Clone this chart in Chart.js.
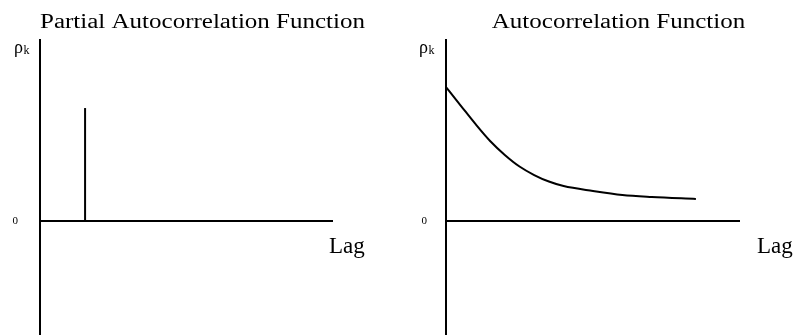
<!DOCTYPE html>
<html>
<head>
<meta charset="utf-8">
<script src="https://cdn.jsdelivr.net/npm/chart.js@4"></script>
<style>
  html, body { margin: 0; padding: 0; background: #fff; overflow: hidden; }
  #wrap { position: relative; width: 799px; height: 335px; }
  canvas { position: absolute; top: 0; }
  #pacfChart { left: 0; }
  #acfChart { left: 400px; }
</style>
</head>
<body>
<div id="wrap">
  <canvas id="pacfChart" width="400" height="335"></canvas>
  <canvas id="acfChart" width="399" height="335"></canvas>
</div>
<script>
// titles and labels
const pacfTitle = "Partial Autocorrelation Function";
const acfTitle = "Autocorrelation Function";
const xLabel = "Lag";
const yTickLabels = ["0"];

// PACF: a single spike at lag 1
const pacfLags = [1];
const pacfValues = [0.624];

// ACF: smooth decay
const acfLags = [0, 1, 2, 3, 4, 5, 6, 7, 8, 10, 12, 14, 17];
const acfValues = [0.74, 0.638, 0.536, 0.442, 0.365, 0.301, 0.254, 0.218, 0.193, 0.166, 0.144, 0.133, 0.122];

// texts drawn around the axes (title, rho_k, Lag)
const annotate = {
    id: "annotate",
    afterDraw(chart, args, opts) {
        const ctx = chart.ctx;
        const area = chart.chartArea;
        const zeroY = chart.scales.y.getPixelForValue(0);
        ctx.save();
        ctx.fillStyle = "#000";
        ctx.textBaseline = "alphabetic";

        // title (the original is a little stretched sideways)
        ctx.save();
        ctx.font = '20px "Liberation Serif", "Times New Roman", serif';
        ctx.textAlign = "center";
        ctx.translate(opts.titleX, 28);
        ctx.scale(1.25, 1);
        ctx.fillText(opts.title, 0, 0);
        ctx.restore();

        // rho with subscript k
        ctx.textAlign = "left";
        ctx.font = '18px "Liberation Serif", "Times New Roman", serif';
        const rx = area.left - opts.rhoDx;
        ctx.fillText("\u03C1", rx, 53);
        const rw = ctx.measureText("\u03C1").width;
        ctx.font = '12px "Liberation Serif", "Times New Roman", serif';
        ctx.fillText("k", rx + rw + 0.5, 53.5);

        // Lag label
        ctx.font = '23px "Liberation Serif", "Times New Roman", serif';
        ctx.fillText(xLabel, area.right + opts.lagDx, zeroY + 32);
        ctx.restore();
    }
};

function makeOptions(xMax, yWidth, padRight, tickPad, extra) {
    return {
        responsive: false,
        animation: false,
        devicePixelRatio: 1,
        layout: { padding: { top: 40, bottom: 1, left: 0, right: padRight } },
        plugins: {
            legend: { display: false },
            title: { display: false },
            tooltip: { enabled: false },
            annotate: extra,
        },
        scales: {
            x: {
                type: "linear",
                display: false,
                min: 0,
                max: xMax,
            },
            y: {
                type: "linear",
                position: "left",
                min: -0.6244,
                max: 1,
                // the only grid line is the zero line, which acts as the Lag axis
                grid: { display: true, drawTicks: false, color: "#000", lineWidth: 2 },
                border: { display: true, color: "#000", width: 2 },
                afterBuildTicks(scale) {
                    scale.ticks = [{ value: 0 }];
                },
                ticks: {
                    padding: tickPad,
                    color: "#000",
                    font: { family: '"Liberation Serif", "Times New Roman", serif', size: 11 },
                    callback: (v) => (v === 0 ? yTickLabels[0] : ""),
                },
                afterFit(scale) {
                    scale.width = yWidth;
                    // tick padding should not eat into the plot height
                    scale.paddingTop = 0;
                    scale.paddingBottom = 0;
                },
            },
        },
    };
}

document.addEventListener("DOMContentLoaded", function () {
    // Partial autocorrelation (left)
    new Chart(document.getElementById("pacfChart"), {
        type: "line",
        data: {
            datasets: pacfLags.map((lag, i) => ({
                data: [{ x: lag, y: 0 }, { x: lag, y: pacfValues[i] }],
                borderColor: "#000",
                borderWidth: 2,
                pointRadius: 0,
                fill: false,
            })),
        },
        options: makeOptions(6.5, 40, 67, 22, { title: pacfTitle, titleX: 202.5, rhoDx: 26, lagDx: -4 }),
        plugins: [annotate],
    });

    // Autocorrelation (right)
    new Chart(document.getElementById("acfChart"), {
        type: "line",
        data: {
            datasets: [{
                data: acfLags.map((lag, i) => ({ x: lag, y: acfValues[i] })),
                borderColor: "#000",
                borderWidth: 2,
                pointRadius: 0,
                cubicInterpolationMode: "monotone",
                fill: false,
            }],
        },
        options: makeOptions(20, 46, 59, 19, { title: acfTitle, titleX: 218.5, rhoDx: 27, lagDx: 17 }),
        plugins: [annotate],
    });
});
</script>
</body>
</html>
